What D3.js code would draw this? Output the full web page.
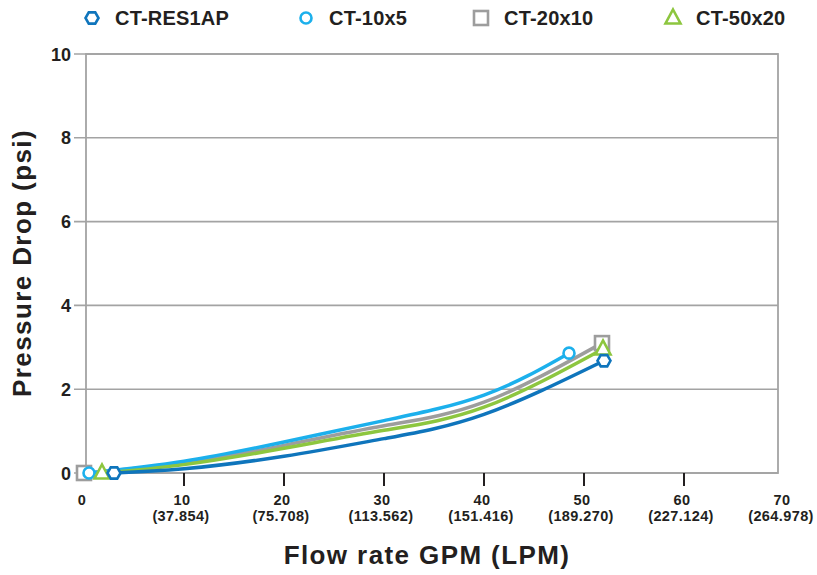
<!DOCTYPE html>
<html>
<head>
<meta charset="utf-8">
<script src="https://cdnjs.cloudflare.com/ajax/libs/d3/7.8.5/d3.min.js"></script>
<style>
	body { margin: 0; background: #fff; }
	text { font-family: "Liberation Sans", Arial, sans-serif; font-weight: bold; fill: #231f20; }
</style>
</head>
<body>
<script>
// series names + colours
var seriesNames = ["CT-RES1AP", "CT-10x5", "CT-20x10", "CT-50x20"];
var seriesColors = ["#0f75bc", "#1cb0ec", "#9d9d9d", "#8dc63f"];
var seriesShapes = ["hexagon", "circle", "square", "triangle"];

// flow (GPM) / pressure drop (psi)
var res1apFlow = [3, 10, 20, 30, 40, 52];
var res1apDrop = [0, 0.10, 0.40, 0.82, 1.40, 2.68];
var ct10x5Flow = [0.5, 10, 20, 30, 40, 48.5];
var ct10x5Drop = [0, 0.28, 0.74, 1.25, 1.86, 2.86];
var ct20x10Flow = [0, 10, 20, 30, 40, 51.8];
var ct20x10Drop = [0, 0.24, 0.66, 1.13, 1.69, 3.1];
var ct50x20Flow = [1.8, 10, 20, 30, 40, 51.9];
var ct50x20Drop = [0, 0.20, 0.59, 1.02, 1.57, 2.96];

var xTicks = [0, 10, 20, 30, 40, 50, 60, 70];
var xTickLpm = ["", "(37.854)", "(75.708)", "(113.562)", "(151.416)", "(189.270)", "(227.124)", "(264.978)"];
var yTicks = [0, 2, 4, 6, 8, 10];

window.onload = function(){

	var w = 817, h = 575;

	var svg = d3.select("body")
		.append("svg")
		.attr("width", w)
		.attr("height", h);

	var x = d3.scaleLinear()
		.domain([0, 70])
		.range([84, 784]);

	var y = d3.scaleLinear()
		.domain([0, 10])
		.range([473, 54]);

	var frameLeft = 86, frameRight = 778;

	// grid lines
	svg.selectAll(".grid")
		.data(yTicks)
		.enter()
		.append("line")
		.attr("x1", 74)
		.attr("x2", frameRight)
		.attr("y1", function(d){ return y(d); })
		.attr("y2", function(d){ return y(d); })
		.style("stroke", "#a3a3a3")
		.style("stroke-width", 1.6);

	svg.append("rect")
		.attr("x", frameLeft)
		.attr("y", y(10))
		.attr("width", frameRight - frameLeft)
		.attr("height", y(0) - y(10))
		.style("fill", "none")
		.style("stroke", "#a3a3a3")
		.style("stroke-width", 1.8);

	// y labels
	svg.selectAll(".ylab")
		.data(yTicks)
		.enter()
		.append("text")
		.attr("x", 71)
		.attr("y", function(d){ return y(d) + 6.5; })
		.attr("text-anchor", "end")
		.style("font-size", "18px")
		.text(function(d){ return d; });

	// x ticks + labels
	svg.selectAll(".xtick")
		.data(xTicks.filter(function(d){ return d > 0 && d < 70; }))
		.enter()
		.append("line")
		.attr("x1", function(d){ return x(d); })
		.attr("x2", function(d){ return x(d); })
		.attr("y1", y(0))
		.attr("y2", y(0) + 13)
		.style("stroke", "#231f20")
		.style("stroke-width", 2);

	var xlab = svg.selectAll(".xlab")
		.data(xTicks)
		.enter()
		.append("text")
		.attr("text-anchor", "middle")
		.style("font-size", "14.5px")
		.style("letter-spacing", "0.4px");
	xlab.append("tspan")
		.attr("x", function(d){ return x(d) - 2; })
		.attr("y", 505)
		.text(function(d){ return d; });
	xlab.append("tspan")
		.attr("x", function(d){ return x(d) - 3; })
		.attr("y", 521)
		.text(function(d, i){ return xTickLpm[i]; });

	// axis titles
	svg.append("text")
		.attr("x", 427)
		.attr("y", 564)
		.attr("text-anchor", "middle")
		.style("font-size", "26px")
		.style("letter-spacing", "1.4px")
		.text("Flow rate GPM (LPM)");

	svg.append("text")
		.attr("transform", "translate(31,263) rotate(-90)")
		.attr("text-anchor", "middle")
		.style("font-size", "26px")
		.style("letter-spacing", "1.4px")
		.text("Pressure Drop (psi)");

	// series
	var series = [
		{ flow: ct20x10Flow, drop: ct20x10Drop, k: 2 },
		{ flow: ct10x5Flow, drop: ct10x5Drop, k: 1 },
		{ flow: ct50x20Flow, drop: ct50x20Drop, k: 3 },
		{ flow: res1apFlow, drop: res1apDrop, k: 0 }
	];

	var line = d3.line()
		.x(function(d){ return x(d[0]); })
		.y(function(d){ return y(d[1]); })
		.curve(d3.curveNatural);

	series.forEach(function(s){
		var pts = s.flow.map(function(f, i){ return [f, s.drop[i]]; });
		svg.append("path")
			.datum(pts)
			.attr("d", line)
			.style("fill", "none")
			.style("stroke", seriesColors[s.k])
			.style("stroke-width", 3.5);
	});

	series.forEach(function(s){
		var n = s.flow.length - 1;
		[0, n].forEach(function(i){
			drawMarker(svg, seriesShapes[s.k], x(s.flow[i]), y(s.drop[i]), seriesColors[s.k]);
		});
	});

	// legend
	var legX = [92, 306, 481, 673];
	seriesNames.forEach(function(name, i){
		drawMarker(svg, seriesShapes[i], legX[i], 18, seriesColors[i]);
		svg.append("text")
			.attr("x", legX[i] + 23)
			.attr("y", 25)
			.style("font-size", "20px")
			.style("letter-spacing", "0.2px")
			.text(name);
	});
};

function drawMarker(svg, shape, cx, cy, color){
	var m;
	if (shape == "circle"){
		m = svg.append("circle")
			.attr("cx", cx)
			.attr("cy", cy)
			.attr("r", 5.5);
	} else if (shape == "square"){
		m = svg.append("rect")
			.attr("x", cx - 7)
			.attr("y", cy - 7)
			.attr("width", 14)
			.attr("height", 14);
	} else if (shape == "hexagon"){
		var r = 6.5, pts = [];
		for (var a = 0; a < 6; a++){
			pts.push([cx + r * Math.cos(a * Math.PI / 3), cy + r * Math.sin(a * Math.PI / 3)]);
		}
		m = svg.append("polygon").attr("points", pts.join(" "));
	} else {
		var s = 15;
		m = svg.append("polygon")
			.attr("points", [[cx, cy - 8.5], [cx + s / 2, cy + 5.5], [cx - s / 2, cy + 5.5]].join(" "));
	}
	m.style("fill", "#fff")
		.style("stroke", color)
		.style("stroke-width", 2.6);
}
</script>
</body>
</html>
